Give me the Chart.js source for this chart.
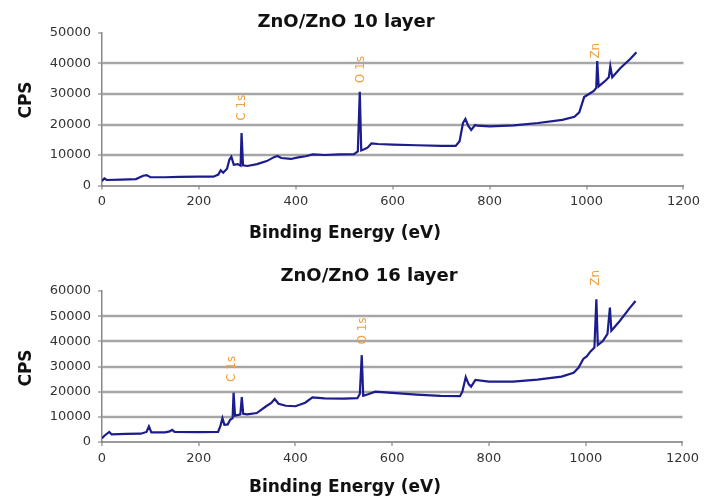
<!DOCTYPE html>
<html>
<head>
<meta charset="utf-8">
<script src="https://cdn.jsdelivr.net/npm/chart.js@4/dist/chart.umd.min.js"></script>
<style>
  body { margin: 0; background: #fff; }
  #wrap { position: relative; width: 708px; height: 500px; }
  canvas { position: absolute; left: 0; }
  #top { top: 0; }
  #bottom { top: 250px; }
</style>
</head>
<body>
<div id="wrap">
  <canvas id="top" width="708" height="250"></canvas>
  <canvas id="bottom" width="708" height="250"></canvas>
</div>
<script>
// ZnO/ZnO 10 layer survey spectrum (binding energy eV, counts per second)
var energy10 = [0, 5, 10, 40, 70, 85, 92, 100, 130, 160, 200, 230, 240, 245, 250, 258, 263, 267, 272, 280,
  286, 288, 291, 300, 320, 340, 355, 362, 370, 390, 405, 420, 435, 460, 490, 520, 528, 532, 535, 540,
  548, 556, 570, 600, 650, 700, 730, 738, 745, 750, 756, 762, 770, 775, 800, 850, 900, 950, 975, 985,
  995, 1005, 1015, 1020, 1022, 1025, 1040, 1046, 1049, 1053, 1070, 1090, 1103];
var cps10 = [1500, 2300, 1800, 1900, 2100, 3200, 3400, 2700, 2700, 2800, 2900, 2900, 3600, 5000, 4200, 5500, 8500, 9400, 6800, 7000,
  6500, 17200, 6600, 6400, 7000, 8000, 9300, 9700, 9000, 8700, 9200, 9600, 10200, 10000, 10200, 10300, 11200, 30700, 11500, 11800,
  12400, 13800, 13600, 13400, 13200, 13000, 13000, 14500, 20500, 21800, 19500, 18200, 19800, 19600, 19400, 19700, 20500, 21500, 22500, 24000,
  29000, 30000, 31000, 32000, 40800, 32500, 34500, 35500, 39100, 35500, 38500, 41500, 43700];

// ZnO/ZnO 16 layer survey spectrum
var energy16 = [0, 5, 15, 20, 50, 80, 92, 97, 102, 130, 140, 145, 150, 200, 240, 245, 249, 253, 260, 265,
  270, 272, 275, 282, 286, 289, 292, 300, 320, 340, 350, 357, 365, 380, 400, 420, 435, 460, 500, 528,
  533, 537, 540, 550, 565, 600, 650, 700, 740, 745, 752, 758, 763, 772, 800, 850, 900, 950, 975, 985,
  995, 1002, 1010, 1018, 1022, 1025, 1035, 1045, 1050, 1053, 1070, 1090, 1103];
var cps16 = [1500, 2500, 4000, 3000, 3200, 3300, 4000, 6200, 3800, 3800, 4200, 4800, 4000, 3900, 4000, 6500, 9500, 6800, 7000, 8800,
  9500, 19600, 10500, 10800, 11000, 17800, 11200, 11000, 11500, 14300, 15500, 17100, 15200, 14400, 14200, 15600, 17700, 17300, 17200, 17400,
  19100, 34500, 18400, 19000, 20000, 19500, 18800, 18300, 18200, 20000, 25800, 23000, 22000, 24700, 24000, 24000, 24800, 26000, 27500, 29500,
  33000, 34000, 36000, 37500, 56700, 38500, 40000, 43000, 53400, 44200, 48000, 53000, 56000];

var yMax10 = 50000;
var yMax16 = 60000;

// peak labels: name, energy, value at label centre
var peakNames = ["C 1s", "O 1s", "Zn"];
var peakEnergy10 = [289, 534, 1020];
var peakValue10 = [25500, 38000, 44200];
var peakEnergy16 = [268, 539, 1022];
var peakValue16 = [29000, 44100, 65200];

// horizontal grid lines and small tick marks, drawn from the scales' own ticks
var gridPlugin = {
  id: "excelGrid",
  beforeDatasetsDraw: function (chart) {
    var ctx = chart.ctx, a = chart.chartArea;
    var sx = chart.scales.x, sy = chart.scales.y;
    ctx.save();
    sy.ticks.forEach(function (t) {
      var y = Math.round(sy.getPixelForValue(t.value));
      if (t.value !== sy.max && t.value !== sy.min) {
        ctx.strokeStyle = "#a6a6a6";
        ctx.lineWidth = 2.5;
        ctx.beginPath(); ctx.moveTo(a.left, y); ctx.lineTo(a.right, y); ctx.stroke();
      }
      ctx.strokeStyle = "#888";
      ctx.lineWidth = 1.2;
      ctx.beginPath(); ctx.moveTo(a.left - 4, y); ctx.lineTo(a.left, y); ctx.stroke();
    });
    sx.ticks.forEach(function (t) {
      var x = Math.round(sx.getPixelForValue(t.value));
      ctx.strokeStyle = "#888";
      ctx.lineWidth = 1.2;
      ctx.beginPath(); ctx.moveTo(x, a.bottom); ctx.lineTo(x, a.bottom + 4); ctx.stroke();
    });
    ctx.restore();
  }
};

var textPlugin = {
  id: "texts",
  afterDraw: function (chart, args, opts) {
    var ctx = chart.ctx;
    ctx.save();
    ctx.textAlign = "center";
    ctx.textBaseline = "middle";
    ctx.fillStyle = "#111";
    ctx.font = 'bold 18px "DejaVu Sans"';
    ctx.fillText(opts.title, opts.titleX, opts.titleY);
    ctx.font = 'bold 17px "DejaVu Sans"';
    ctx.fillText("Binding Energy (eV)", opts.xTitleX, opts.xTitleY);
    ctx.save();
    ctx.translate(opts.yTitleX, opts.yTitleY);
    ctx.rotate(-Math.PI / 2);
    ctx.fillText("CPS", 0, 0);
    ctx.restore();
    ctx.font = '12px "DejaVu Sans"';
    ctx.fillStyle = "#f0a040";
    var sx = chart.scales.x, sy = chart.scales.y;
    for (var i = 0; i < peakNames.length; i++) {
      ctx.save();
      ctx.translate(sx.getPixelForValue(opts.energies[i]), sy.getPixelForValue(opts.values[i]));
      ctx.rotate(-Math.PI / 2);
      ctx.fillText(peakNames[i], 0, 0);
      ctx.restore();
    }
    ctx.restore();
  }
};

function makeChart(id, energies, counts, yMax, pad, xHeight, xPad, texts) {
  var pts = energies.map(function (e, i) { return { x: e, y: counts[i] }; });
  return new Chart(document.getElementById(id), {
    type: "line",
    data: {
      datasets: [{
        data: pts,
        borderColor: "#1c1c8c",
        borderWidth: 2.2,
        pointRadius: 0
      }]
    },
    options: {
      responsive: false,
      animation: false,
      layout: { padding: pad },
      plugins: {
        legend: { display: false },
        texts: texts
      },
      scales: {
        x: {
          type: "linear",
          min: 0,
          max: 1200,
          afterFit: function (s) { s.height = xHeight; },
          ticks: {
            stepSize: 200,
            font: { family: "DejaVu Sans", size: 13 },
            color: "#333",
            padding: xPad,
            callback: function (v) { return String(v); }
          },
          grid: { display: false, drawTicks: false },
          border: { display: true, color: "#999", width: 2 }
        },
        y: {
          min: 0,
          max: yMax,
          afterFit: function (s) { s.width = 102; },
          ticks: {
            stepSize: 10000,
            font: { family: "DejaVu Sans", size: 13 },
            color: "#333",
            padding: 11,
            callback: function (v) { return String(v); }
          },
          grid: { display: false, drawTicks: false },
          border: { display: true, color: "#888", width: 1.5 }
        }
      }
    },
    plugins: [gridPlugin, textPlugin]
  });
}

makeChart("top", energy10, cps10, yMax10, { top: 33, left: 0, right: 20, bottom: 0 }, 64.5, 8, {
  title: "ZnO/ZnO 10 layer", titleX: 346, titleY: 22,
  xTitleX: 345, xTitleY: 234,
  yTitleX: 27, yTitleY: 100,
  energies: peakEnergy10, values: peakValue10
});

makeChart("bottom", energy16, cps16, yMax16, { top: 41, left: 0, right: 20, bottom: 0 }, 58, 9, {
  title: "ZnO/ZnO 16 layer", titleX: 369, titleY: 26,
  xTitleX: 345, xTitleY: 238,
  yTitleX: 27, yTitleY: 118,
  energies: peakEnergy16, values: peakValue16
});
</script>
</body>
</html>
